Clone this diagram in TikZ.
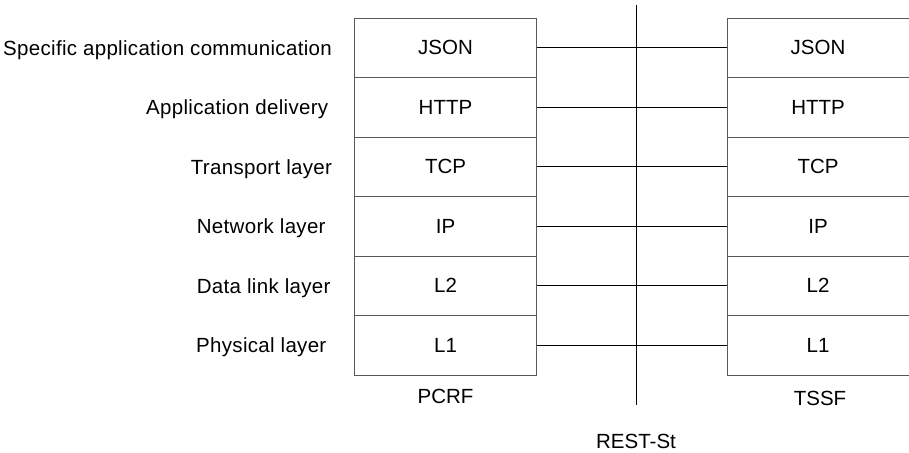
\documentclass[tikz,border=0pt]{standalone}
\usepackage{fontspec}
\setmainfont{Liberation Sans}
\newfontfamily\lblfont[LetterSpace=1.5]{Liberation Sans}
\usepackage{xcolor}
\usepackage{tikz}

\tikzset{
    layer/.style={rectangle, draw=black!65, line width=0.9pt, minimum width=182pt, minimum height=59.5pt, inner sep=0pt},
    lbl/.style={inner sep=0pt},
    layername/.style={inner sep=0pt, font=\lblfont\fontsize{20.5}{24}\selectfont}
}

\begin{document}
\begin{tikzpicture}[x=1pt, y=-1pt, node distance=59.5pt, font=\fontsize{20.5}{24}\selectfont]
    \useasboundingbox (0,0) rectangle (909,452);

    % PCRF stack
    \node[layer] (pjson) at (445.5,47.75) {JSON};
    \node[layer, below of=pjson] (phttp) {HTTP};
    \node[layer, below of=phttp] (ptcp) {TCP};
    \node[layer, below of=ptcp] (pip) {IP};
    \node[layer, below of=pip] (pltwo) {L2};
    \node[layer, below of=pltwo] (plone) {L1};
    \node[lbl, anchor=base] (pcrf) at (445.5,403) {PCRF};

    % TSSF stack
    \node[layer] (tjson) at (818,47.75) {JSON};
    \node[layer, below of=tjson] (thttp) {HTTP};
    \node[layer, below of=thttp] (ttcp) {TCP};
    \node[layer, below of=ttcp] (tip) {IP};
    \node[layer, below of=tip] (tltwo) {L2};
    \node[layer, below of=tltwo] (tlone) {L1};
    \node[lbl, anchor=base] (tssf) at (820,405) {TSSF};

    % layer names, on the baselines of the boxes
    \node[layername, anchor=base east] (lspec) at (332,55.1) {Specific application communication};
    \node[layername, anchor=base east] (ldeliv) at (328.5,114.6) {Application delivery};
    \node[layername, anchor=base west] (ltrans) at (190.7,174.1) {Transport layer};
    \node[layername, anchor=base west] (lnet) at (196.7,233.6) {Network layer};
    \node[layername, anchor=base west] (ldata) at (196.7,293.1) {Data link layer};
    \node[layername, anchor=base west] (lphys) at (196,352.6) {Physical layer};

    % reference point
    \coordinate (rtop) at (636,5);
    \coordinate (rbot) at (636,405);
    \draw[line width=0.9pt] (rtop) -- (rbot);
    \node[lbl, anchor=base] (rest) at (636,448) {REST-St};

    \draw[line width=0.8pt] (pjson) -- (tjson);
    \draw[line width=0.8pt] (phttp) -- (thttp);
    \draw[line width=0.8pt] (ptcp) -- (ttcp);
    \draw[line width=0.8pt] (pip) -- (tip);
    \draw[line width=0.8pt] (pltwo) -- (tltwo);
    \draw[line width=0.8pt] (plone) -- (tlone);
\end{tikzpicture}
\end{document}
